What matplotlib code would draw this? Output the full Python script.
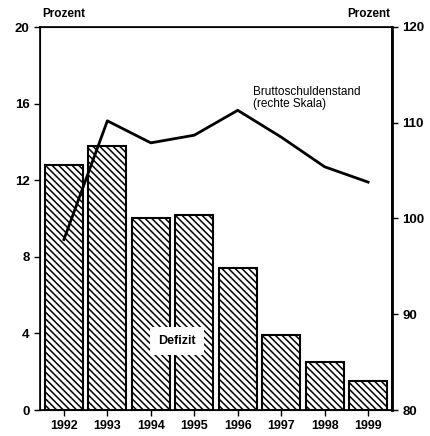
import matplotlib
matplotlib.use("Agg")
import matplotlib.pyplot as plt
import numpy as np

plt.rcParams['font.family'] = ['Liberation Sans', 'DejaVu Sans']
plt.rcParams['hatch.linewidth'] = 1.1

years = ["1992", "1993", "1994", "1995", "1996", "1997", "1998", "1999"]
defizit = [12.8, 13.8, 10.0, 10.2, 7.4, 3.9, 2.5, 1.5]
schulden = [97.8, 110.2, 107.9, 108.7, 111.3, 108.5, 105.4, 103.8]
left_ticks = [0, 4, 8, 12, 16, 20]
right_ticks = [80, 90, 100, 110, 120]

fig = plt.figure(figsize=(4.31, 4.36), dpi=100)
ax = fig.add_axes([40/431, 1-410/436, 352/431, 383/436])
x = np.arange(len(years))
ax.bar(x, defizit, width=0.88, color='white', edgecolor='black', hatch='\\\\\\\\\\', linewidth=1.5)
ax.set_xlim(-0.55, len(years)-0.45)
ax.set_ylim(0, 20)
ax.set_yticks(left_ticks)
ax.set_xticks(x)
ax.set_xticklabels(years, fontsize=9, fontweight='bold')
ax.tick_params(axis='y', labelsize=9.5, width=1, length=4)
ax.tick_params(axis='x', length=4, width=1)
for lab in ax.get_yticklabels():
    lab.set_fontweight('bold')
for s in ax.spines.values():
    s.set_linewidth(1.2)

ax2 = ax.twinx()
ax2.plot(x, schulden, color='black', linewidth=2)
ax2.set_ylim(80, 120)
ax2.set_yticks(right_ticks)
ax2.tick_params(axis='y', labelsize=9.5, width=1, length=4)
for lab in ax2.get_yticklabels():
    lab.set_fontweight('bold')
ax2.spines['right'].set_linewidth(2)

fig.text(42/431, 1-14/436, "Prozent", fontsize=8.5, fontweight='bold', ha='left', va='center')
fig.text(390/431, 1-14/436, "Prozent", fontsize=8.5, fontweight='bold', ha='right', va='center')
ax.text(2.6, 3.6, "Defizit", fontsize=9, fontweight='bold', ha='center', va='center',
        bbox=dict(facecolor='white', edgecolor='none', pad=6))
ax2.text(4.35, 112.6, "Bruttoschuldenstand\n(rechte Skala)", fontsize=8.5, ha='left', va='center',
         linespacing=1.0)

fig.savefig("out.png", dpi=100)
